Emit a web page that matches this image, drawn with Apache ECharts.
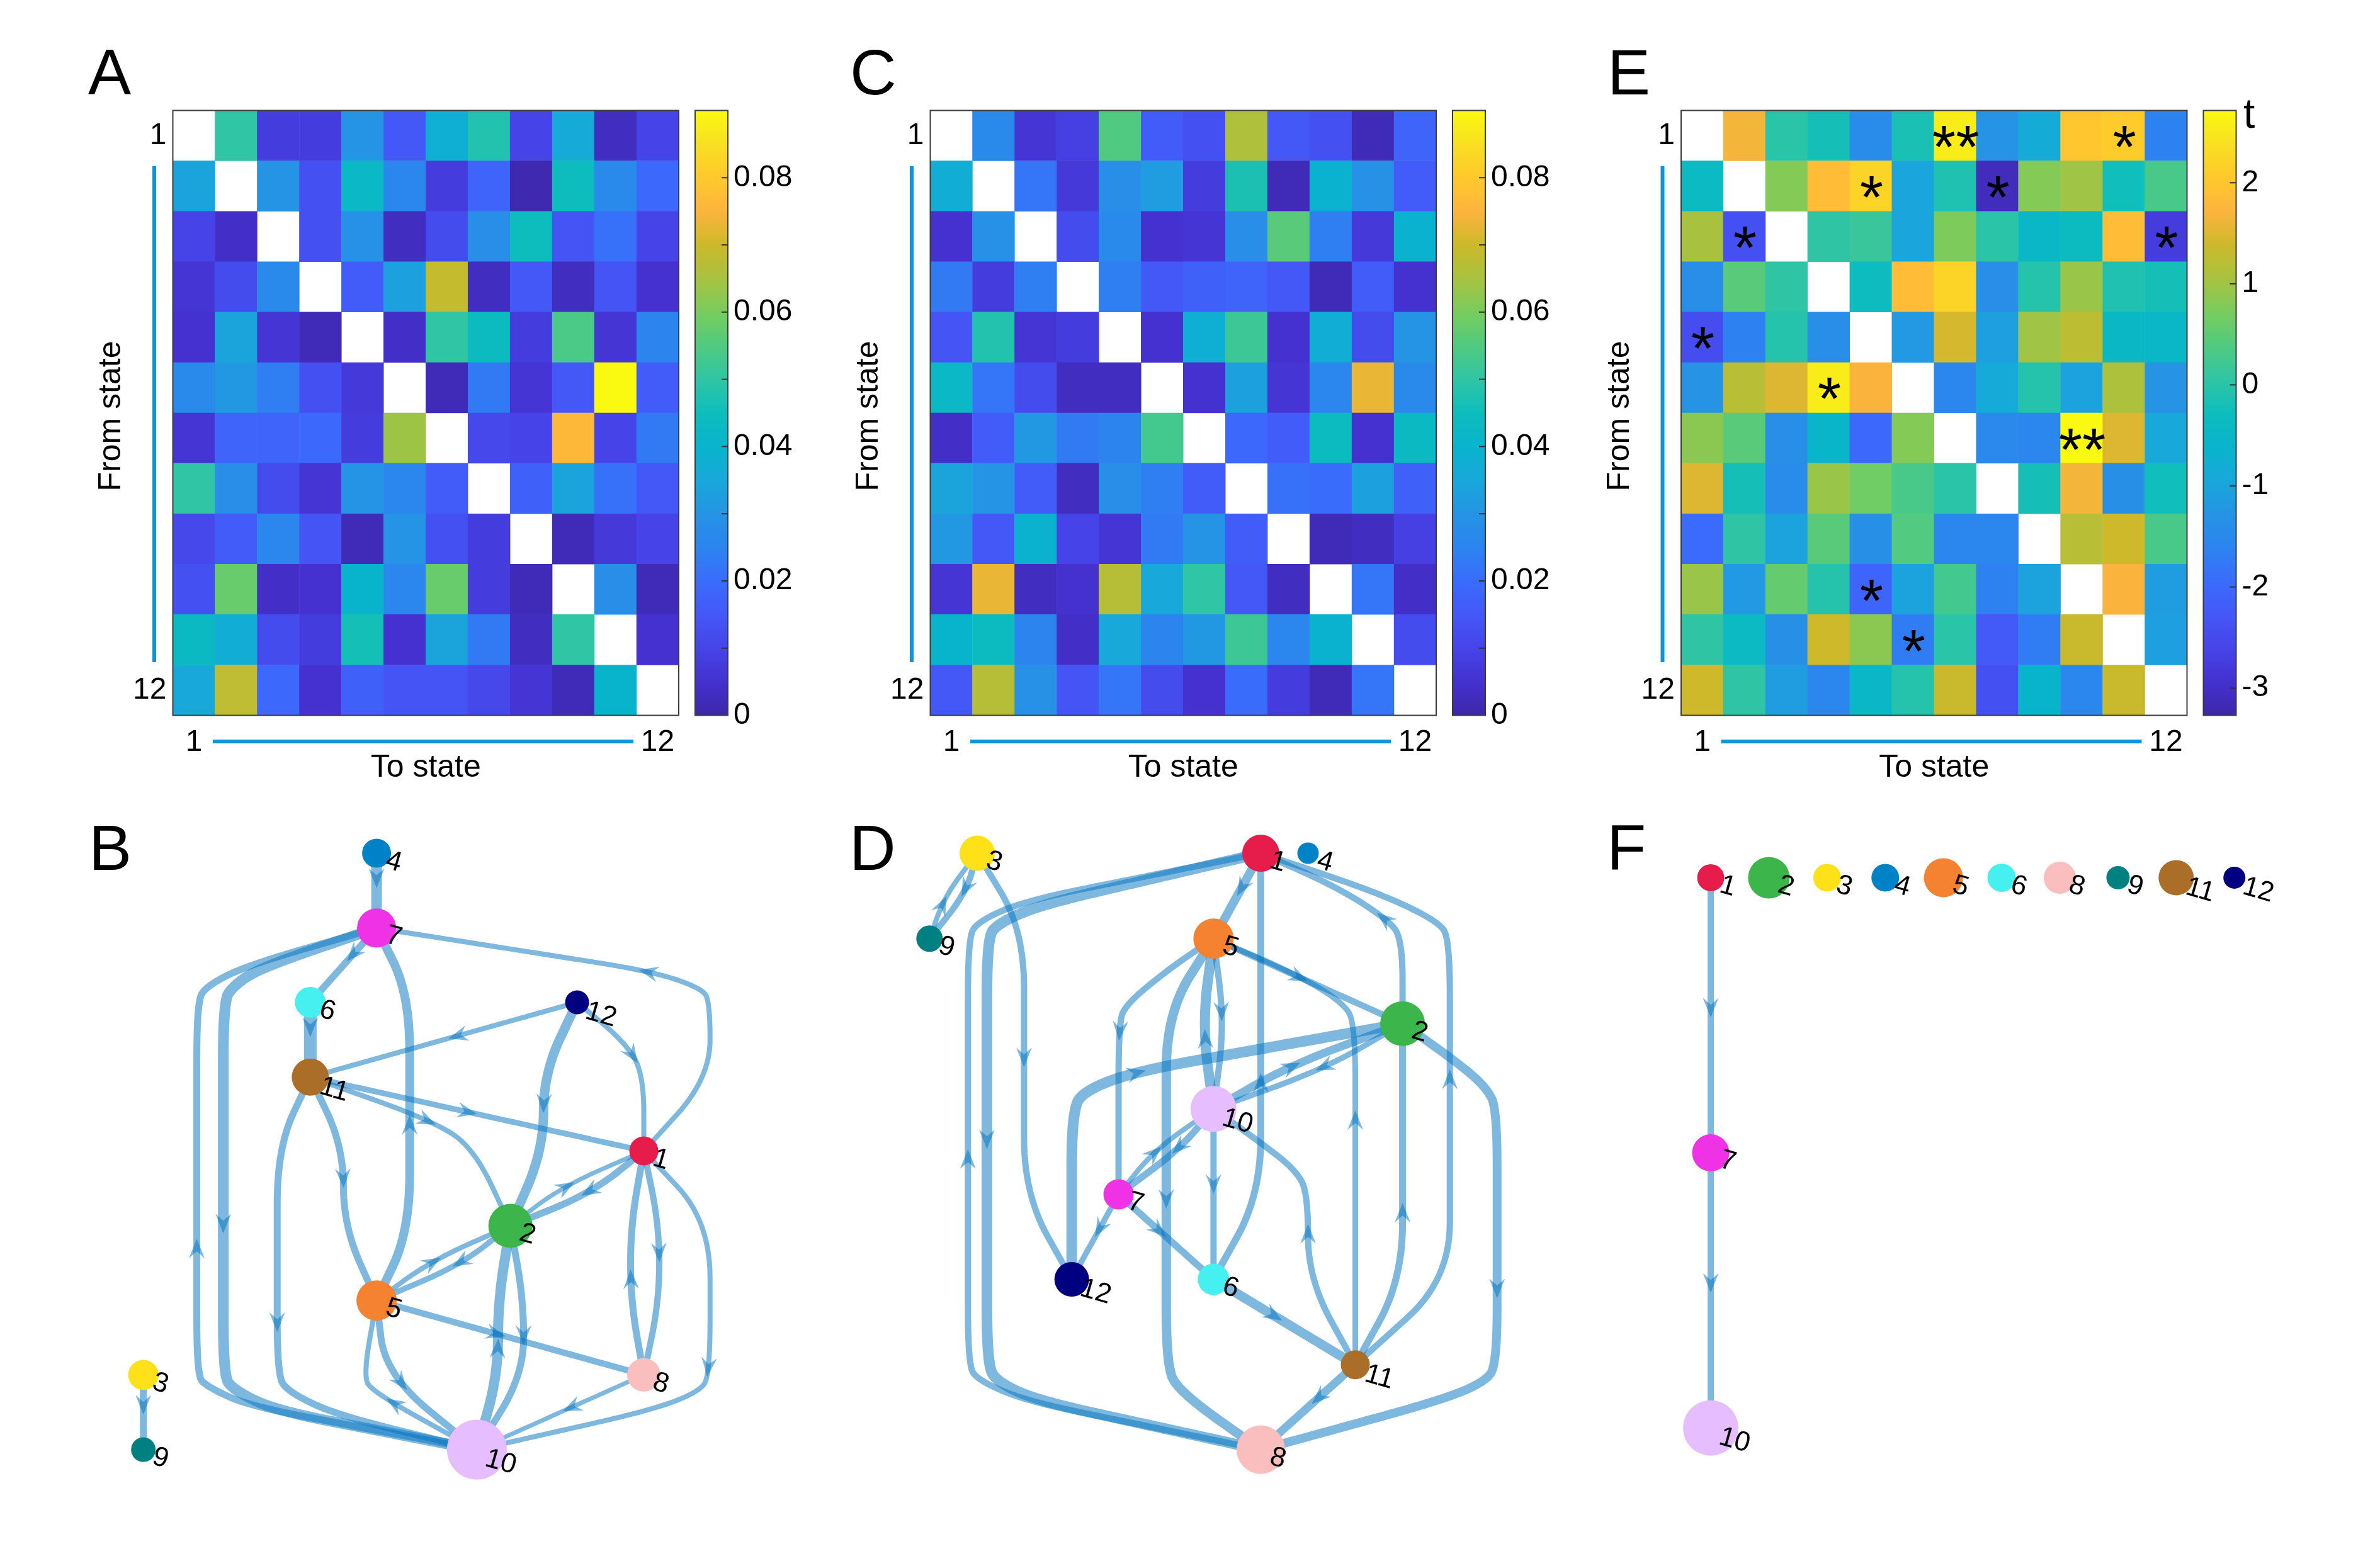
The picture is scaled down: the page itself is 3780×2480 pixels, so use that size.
<!DOCTYPE html>
<html>
<head>
<meta charset="utf-8">
<script src="https://cdn.jsdelivr.net/npm/echarts@6/dist/echarts.min.js"></script>
<style>html,body{margin:0;padding:0;background:#fff}#c{width:3780px;height:2480px}</style>
</head>
<body>
<div id="c"></div>
<script>
const FONT = 'Liberation Sans';
const parula = ['#3D27A8','#4431CF','#4644E8','#4458F8','#3A6CFC','#2C84EF','#2594E4','#18A8DA','#08B4CC','#0DBDBD','#30C5A4','#50CA80','#78CC5E','#A8C240','#CCB92A','#FDB43E','#FFC92C','#F8DF22','#FAFA10'];
const stateColors = ['#E61D4B','#3CB54A','#FFE119','#0082C8','#F58230','#46F0F0','#F032E6','#FABEBE','#008080','#E6BEFF','#AA6E28','#000080'];
const tickLabels = ['1','','','','','','','','','','','12'];

const matrixA = [
[null,.05,.008,.008,.03,.015,.038,.048,.01,.036,.003,.01],
[.034,null,.03,.013,.042,.026,.008,.018,.001,.045,.027,.019],
[.01,.004,null,.013,.029,.003,.012,.028,.045,.014,.021,.01],
[.006,.012,.027,null,.016,.033,.069,.003,.015,.003,.014,.005],
[.005,.034,.006,.002,null,.004,.05,.044,.008,.054,.006,.025],
[.027,.031,.024,.013,.007,null,.002,.023,.006,.015,.09,.016],
[.006,.018,.018,.019,.008,.064,null,.011,.01,.076,.01,.023],
[.05,.028,.012,.006,.03,.026,.016,null,.017,.034,.021,.015],
[.011,.016,.026,.014,.002,.03,.013,.008,null,.002,.007,.01],
[.013,.058,.004,.005,.04,.026,.058,.008,.002,null,.028,.002],
[.043,.037,.012,.008,.046,.005,.034,.023,.003,.05,null,.005],
[.035,.068,.019,.005,.017,.014,.014,.011,.006,.002,.04,null]];
const matrixC = [
[null,.027,.006,.009,.055,.016,.013,.066,.015,.013,.002,.018],
[.037,null,.022,.007,.028,.032,.008,.047,.002,.039,.029,.016],
[.005,.029,null,.012,.027,.005,.006,.028,.056,.024,.007,.039],
[.023,.008,.024,null,.024,.015,.017,.018,.015,.002,.016,.005],
[.014,.048,.006,.008,null,.005,.038,.052,.005,.037,.012,.03],
[.042,.022,.012,.003,.003,null,.005,.033,.006,.026,.073,.027],
[.004,.016,.031,.023,.025,.053,null,.019,.016,.044,.005,.043],
[.034,.03,.016,.003,.028,.024,.016,null,.021,.02,.033,.017],
[.031,.015,.039,.01,.006,.023,.03,.016,null,.002,.003,.009],
[.006,.073,.003,.005,.067,.035,.05,.015,.003,null,.022,.004],
[.04,.044,.025,.004,.035,.025,.031,.052,.026,.039,null,.012],
[.015,.067,.029,.014,.022,.012,.005,.02,.008,.002,.022,null]];
const matrixE = [
[null,1.65,0,-.2,-1.45,-.15,2.55,-1.3,-.85,2.0,2.1,-1.65],
[-.4,null,.8,1.85,2.2,-1.0,-.1,-3.1,.8,1.0,-.25,.3],
[1.05,-2.4,null,.05,.15,-1.0,.75,0,-.5,-.35,1.85,-2.75],
[-1.4,.45,.05,null,-.3,1.85,2.2,-1.4,-.05,.95,-.1,-.2],
[-2.45,-1.65,-.05,-1.4,null,-1.2,1.45,-1.1,1.0,1.25,-.45,-.5],
[-1.3,1.2,1.5,2.55,1.7,null,-1.55,-.9,-.05,-1.05,1.1,-1.3],
[.85,.45,-1.4,-.55,-2.0,.8,null,-1.5,-1.55,2.7,1.5,-.95],
[1.5,-.2,-1.45,.95,.65,.3,0,null,-.2,1.65,-1.35,-.25],
[-1.95,.05,-1.05,.45,-1.35,.4,-1.55,-1.55,null,1.2,1.4,.3],
[.95,-1.2,.55,-.05,-2.05,-1.05,.25,-1.65,-1.05,null,1.7,-1.15],
[.05,-.4,-1.35,1.4,.85,-1.7,0,-2.25,-1.7,1.35,null,-1.1],
[1.4,.05,-1.15,-1.55,-.5,-.05,1.35,-2.4,-.6,-1.55,1.35,null]];
const starCells = [[1,7,'**'],[1,11,'*'],[2,5,'*'],[2,8,'*'],[3,2,'*'],[3,12,'*'],[5,1,'*'],[6,4,'*'],[7,10,'**'],[10,5,'*'],[11,6,'*']];
const ticksProb = [0,.02,.04,.06,.08];
const minorProb = [.01,.02,.03,.04,.05,.06,.07,.08];
const ticksT = [-3,-2,-1,0,1,2];

// node: [state, x, y, diameter]   edge: [from, to, weight, waypoints, arrow position]
const nodesB = [[4,710,103,46],[7,710,265,62],[6,560,426,49],[12,1164,426,38],[11,560,588,59],[1,1315,748,46],[2,1013,910,70],[5,710,1072,64],[3,182,1233,48],[8,1315,1233,53],[9,182,1395,39],[10,937,1395,95]];
const edgesB = [
[4,7,17,[],[710,160]],[7,6,11,[],[655,325]],[6,11,20,[],[560,485]],
[5,7,14,[[785,920],[785,410]],[785,695]],
[7,10,17,[[450,350],[385,390],[363,426],[363,1233],[385,1265],[480,1310]],[363,910]],
[10,7,11,[[420,1300],[325,1258],[303,1233],[303,426],[325,390],[420,345]],[303,960]],
[11,10,11,[[485,740],[485,1233],[510,1270],[620,1320]],[485,1115]],
[11,5,11,[[635,740],[635,910]],[635,805]],
[12,11,8,[],[890,497]],[11,1,9,[],[915,662]],
[11,2,8,[[830,680],[930,740]],[825,675]],
[12,2,15,[[1088,580],[1088,745]],[1088,645]],
[12,1,8,[[1270,510],[1315,580]],[1300,535]],
[1,7,8,[[1465,590],[1465,425],[1445,395],[1330,358]],[1325,365]],
[2,1,7,[[1130,825]],[1135,825]],[1,2,11,[[1195,840]],[1195,835]],
[5,2,8,[[835,985]],[835,985]],[2,5,9,[[900,995]],[900,990]],
[2,10,11,[[1043,1072],[1043,1233]],[1043,1145]],
[10,2,16,[[985,1233],[985,1072]],[985,1175]],
[5,8,10,[],[985,1145]],
[1,8,10,[[1350,910],[1350,1072]],[1347,970]],
[8,1,11,[[1285,1072],[1285,910]],[1285,1025]],
[1,10,8,[[1465,900],[1465,1233],[1440,1270],[1330,1310]],[1465,1215]],
[8,10,7,[],[1155,1300]],
[5,10,11,[[730,1233]],[745,1260]],
[10,5,8,[[700,1270],[680,1233]],[745,1305]],
[3,9,11,[],[182,1295]]];

const nodesD = [[3,288,103,56],[1,930,103,59],[4,1037,103,34],[9,180,288,42],[5,823,288,64],[2,1251,472,71],[10,823,657,73],[7,608,842,48],[12,502,1026,55],[6,823,1026,50],[11,1144,1211,46],[8,930,1395,77]];
const edgesD = [
[9,3,8,[[215,195]],[205,210]],[3,9,10,[[262,190]],[260,180]],
[3,12,10,[[394,270],[394,842]],[394,540]],
[1,5,14,[],[888,172]],
[6,1,11,[[930,842]],[930,605]],
[8,1,10,[[400,1290],[290,1245],[267,1211],[267,288],[290,250],[400,205]],[267,770]],
[1,8,17,[[430,215],[335,255],[310,288],[310,1211],[335,1250],[430,1290]],[310,725]],
[2,1,10,[[1251,288],[1215,245],[1100,175]],[1215,240]],
[11,1,10,[[1358,1026],[1358,288],[1330,250],[1200,190]],[1358,590]],
[5,2,10,[],[1015,365]],
[11,5,9,[[1144,472],[1115,425],[1000,360]],[1144,680]],
[5,7,10,[[720,355],[625,430],[608,472]],[608,490]],
[5,8,15,[[716,450],[716,1211],[745,1270]],[716,850]],
[10,5,16,[[797,472]],[800,505]],[5,10,10,[[848,472]],[845,445]],
[12,2,17,[[502,657],[535,615],[650,575]],[650,587]],
[10,2,13,[[990,565]],[1000,565]],[2,10,9,[[1075,570]],[1075,565]],
[2,8,14,[[1380,560],[1440,610],[1465,657],[1465,1211],[1435,1250],[1330,1290]],[1465,1045]],
[11,2,11,[[1251,1026]],[1251,885]],
[7,10,8,[[690,745]],[685,755]],[10,7,11,[[745,745]],[750,740]],
[10,6,10,[],[823,820]],
[11,10,10,[[1037,1026],[1037,842],[1010,790],[930,730]],[1037,925]],
[7,12,9,[],[570,915]],[7,6,11,[],[695,920]],[6,11,15,[],[958,1103]],[11,8,13,[],[1060,1285]]];

const nodesF = [[1,255,156,43],[2,381,156,66],[3,507,156,44],[4,633,156,44],[5,759,156,62],[6,885,156,45],[8,1011,156,51],[9,1137,156,37],[11,1263,156,56],[12,1389,156,35],[7,255,752,59],[10,255,1348,88]];
const edgesF = [[1,7,10,[],[255,435]],[7,10,10,[],[255,1030]]];

// --- layout
const heatTop = 175.5, heatH = 961, heatW = 803.5, cbW = 52;
const heatLefts = [274.5, 1477.5, 2670];
const graphRects = [[100,1280,1100,1150],[1350,1280,1100,1150],[2530,1280,1150,1150]];
const UNIT = 1568;
const EDGE = 'rgba(0,114,189,0.5)';

const grid=[], xAxis=[], yAxis=[], series=[], visualMap=[], graphic=[];
const txt = {fontFamily:FONT,color:'#000'};

function heatPanel(i, matrix, range, labelTicks, minorTicks, stars){
  const L = heatLefts[i], cbL = L + 829.5;
  const gi = grid.length;
  grid.push({left:L,top:heatTop,width:heatW,height:heatH,show:true,borderColor:'#3c3c3c',borderWidth:2,backgroundColor:'transparent',z:6});
  xAxis.push({gridIndex:gi,type:'category',data:tickLabels,z:7,name:'To state',nameLocation:'middle',nameGap:59,nameMoveOverlap:false,
    nameTextStyle:{...txt,fontSize:50},axisLine:{show:false},axisTick:{show:false},splitLine:{show:false},
    axisLabel:{...txt,fontSize:48,interval:0,margin:19}});
  yAxis.push({gridIndex:gi,type:'category',data:tickLabels,inverse:true,z:7,name:'From state',nameLocation:'middle',nameGap:72,nameRotate:90,nameMoveOverlap:false,
    nameTextStyle:{...txt,fontSize:50,padding:[0,10,0,0]},axisLine:{show:false},axisTick:{show:false},splitLine:{show:false},
    axisLabel:{...txt,fontSize:48,interval:0,margin:10,padding:[10,0,0,0]}});
  const data=[];
  matrix.forEach((r,y)=>r.forEach((v,x)=>{
    if(v===null) return;
    const s=(stars||[]).find(c=>c[0]===y+1&&c[1]===x+1);
    data.push(s?{value:[x,y,v],label:{show:true,formatter:s[2],fontSize:96,fontFamily:FONT,color:'#000',offset:[1,24]}}:[x,y,v]);
  }));
  const si = series.length;
  series.push({type:'heatmap',xAxisIndex:gi,yAxisIndex:gi,data,z:2,itemStyle:{borderWidth:0},emphasis:{disabled:true}});
  visualMap.push({type:'continuous',seriesIndex:si,dimension:2,min:range[0],max:range[1],left:cbL,top:heatTop,itemWidth:cbW,itemHeight:heatH,padding:0,calculable:false,show:true,hoverLink:false,inRange:{color:parula}});
  // colour bar scale
  const gc = grid.length;
  grid.push({left:cbL,top:heatTop,width:cbW,height:heatH,show:true,borderColor:'#3c3c3c',borderWidth:2,backgroundColor:'transparent',z:6});
  xAxis.push({gridIndex:gc,type:'value',min:0,max:1,show:false});
  yAxis.push({gridIndex:gc,type:'value',position:'right',min:range[0],max:range[1],z:7,axisLine:{show:false},splitLine:{show:false},
    axisTick:{show:false},
    axisLabel:{...txt,fontSize:48,margin:9,customValues:labelTicks,padding:[10,0,0,0]}});
  // colour bar ticks sit inside the bar's right edge
  series.push({type:'scatter',xAxisIndex:gc,yAxisIndex:gc,z:8,silent:true,symbol:'rect',symbolSize:[10,2],
    itemStyle:{color:'#333',opacity:1},data:minorTicks.map(v=>[0.904,v])});
  // state range bars
  graphic.push({type:'rect',shape:{x:L-32.5,y:264,width:6,height:788},style:{fill:'#0A96DC'}});
  graphic.push({type:'rect',shape:{x:L+63.5,y:1175,width:668,height:6},style:{fill:'#0A96DC'}});
}

function rounded(pts){
  const out=[pts[0]];
  for(let i=1;i<pts.length-1;i++){
    const a=pts[i-1],b=pts[i],c=pts[i+1];
    const la=Math.hypot(b[0]-a[0],b[1]-a[1]),lc=Math.hypot(c[0]-b[0],c[1]-b[1]);
    const ra=Math.min(la/2,90),rc=Math.min(lc/2,90);
    const p0=[b[0]+(a[0]-b[0])*ra/la,b[1]+(a[1]-b[1])*ra/la];
    const p2=[b[0]+(c[0]-b[0])*rc/lc,b[1]+(c[1]-b[1])*rc/lc];
    for(let k=0;k<=14;k++){
      const t=k/14,u=1-t;
      out.push([u*u*p0[0]+2*u*t*b[0]+t*t*p2[0],u*u*p0[1]+2*u*t*b[1]+t*t*p2[1]]);
    }
  }
  out.push(pts[pts.length-1]);
  // subdivide so the arrow can sit anywhere along straight runs
  const dense=[out[0]];
  for(let i=1;i<out.length;i++){
    const a=out[i-1],b=out[i],n=Math.max(1,Math.ceil(Math.hypot(b[0]-a[0],b[1]-a[1])/8));
    for(let k=1;k<=n;k++) dense.push([a[0]+(b[0]-a[0])*k/n,a[1]+(b[1]-a[1])*k/n]);
  }
  return dense;
}

function graphPanel(i, nodes, edges){
  const r=graphRects[i], gi=grid.length;
  grid.push({left:r[0],top:r[1],width:r[2],height:r[3],show:false});
  xAxis.push({gridIndex:gi,type:'value',min:0,max:UNIT,show:false});
  yAxis.push({gridIndex:gi,type:'value',min:0,max:UNIT,inverse:true,show:false});
  const pos={}; nodes.forEach(n=>pos[n[0]]=[n[1],n[2]]);
  series.push({type:'custom',xAxisIndex:gi,yAxisIndex:gi,z:2,clip:false,silent:true,
    data:edges.map(e=>pos[e[0]]),
    renderItem(params,api){
      const e=edges[params.dataIndex];
      const raw=[pos[e[0]],...e[3],pos[e[1]]].map(p=>api.coord(p));
      const pts=rounded(raw);
      // locate the arrow on the curve, pointing from source to target
      const h=api.coord(e[4]); let best=1,bd=1e12;
      for(let k=1;k<pts.length-1;k++){const d=Math.hypot(pts[k][0]-h[0],pts[k][1]-h[1]); if(d<bd){bd=d;best=k;}}
      const A=pts[best-1],B=pts[best+1],len=Math.hypot(B[0]-A[0],B[1]-A[1])||1;
      const tx=(B[0]-A[0])/len,ty=(B[1]-A[1])/len,nx=-ty,ny=tx,P=pts[best];
      const L=31,W=25;
      const arrow=[[P[0]+tx*L/2,P[1]+ty*L/2],
        [P[0]-tx*L/2+nx*W/2,P[1]-ty*L/2+ny*W/2],
        [P[0]-tx*L*0.15,P[1]-ty*L*0.15],
        [P[0]-tx*L/2-nx*W/2,P[1]-ty*L/2-ny*W/2]];
      return {type:'group',children:[
        {type:'polyline',shape:{points:pts},style:{stroke:EDGE,lineWidth:e[2],fill:null,lineJoin:'round'}},
        {type:'polygon',shape:{points:arrow},style:{fill:EDGE}}
      ]};
    }});
  series.push({type:'scatter',xAxisIndex:gi,yAxisIndex:gi,z:3,silent:true,
    data:nodes.map(n=>({value:[n[1],n[2]],symbolSize:n[3],itemStyle:{color:stateColors[n[0]-1],opacity:1},
      label:{show:true,formatter:String(n[0]),position:'inside',align:'center',verticalAlign:'middle',rotate:-16,
        offset:n[0]>9?[42,9]:[30,6],fontSize:44,fontFamily:FONT,color:'#000'}}))});
}

heatPanel(0,matrixA,[0,.09],ticksProb,minorProb);
heatPanel(1,matrixC,[0,.09],ticksProb,minorProb);
heatPanel(2,matrixE,[-3.27,2.715],ticksT,ticksT,starCells);
graphPanel(0,nodesB,edgesB);
graphPanel(1,nodesD,edgesD);
graphPanel(2,nodesF,edgesF);

const letter=(text,left,top,size)=>({text,left,top,padding:0,textStyle:{...txt,fontSize:size||102,fontWeight:'normal'}});
const title=[letter('A',140,71),letter('C',1350,71),letter('E',2553,71),letter('B',141,1303),letter('D',1349,1303),letter('F',2552,1303),letter('t',3563,152,66)];

const chart=echarts.init(document.getElementById('c'),null,{renderer:'canvas'});
chart.setOption({animation:false,backgroundColor:'#fff',tooltip:{show:false},title,grid,xAxis,yAxis,series,visualMap,graphic:{elements:graphic}});
</script>
</body>
</html>
